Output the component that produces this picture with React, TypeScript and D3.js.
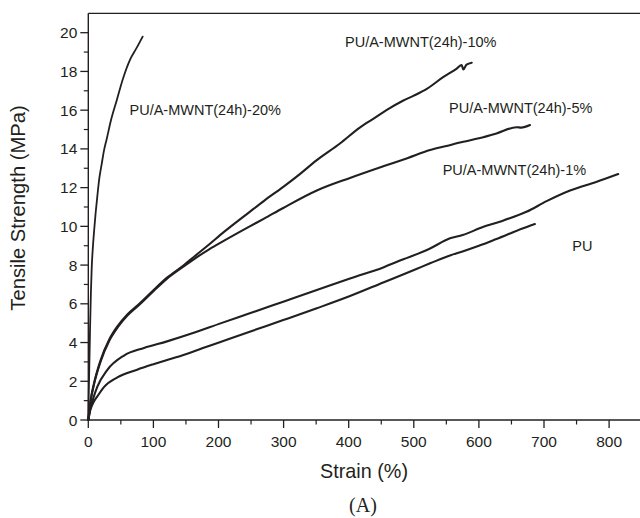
import React from "react";
import * as d3 from "d3";

// ---- data (strain %, tensile strength MPa) ----
const pu20Strain = [0, 0.8, 1.8, 2.8, 4, 5.3, 7, 9, 11.3, 14, 17, 20.5, 24, 28.2, 35, 43.6, 53, 64, 74, 83.5];
const pu20Stress = [0, 1.5, 3.2, 4.9, 6.6, 7.9, 8.9, 9.8, 10.7, 11.6, 12.5, 13.2, 13.9, 14.5, 15.5, 16.5, 17.6, 18.6, 19.2, 19.8];

const pu10Strain = [0, 2, 4, 8.8, 19, 32, 45, 60, 80, 100, 121, 147, 162, 185, 208, 248, 270, 299.5, 325, 351, 386.6, 417, 440, 458, 484, 500, 520, 545, 566, 573.6, 576, 581, 589];
const pu10Stress = [0, 0.6, 1.1, 1.9, 3.1, 4.15, 4.85, 5.45, 6.05, 6.7, 7.35, 8.0, 8.42, 9.05, 9.7, 10.75, 11.32, 12.04, 12.7, 13.42, 14.28, 15.1, 15.6, 16.0, 16.5, 16.75, 17.1, 17.7, 18.15, 18.33, 18.1, 18.35, 18.45];

const pu5Strain = [0, 2, 4, 8.8, 19, 32, 45, 60, 80, 100, 121, 147, 162, 185, 208, 248, 270, 299.5, 351, 402, 453, 490, 525, 550, 576, 600, 627, 658, 665, 678.5];
const pu5Stress = [0, 0.55, 1.05, 1.84, 3.03, 4.08, 4.78, 5.39, 6.0, 6.65, 7.3, 7.94, 8.3, 8.8, 9.25, 10.0, 10.4, 10.95, 11.85, 12.5, 13.1, 13.52, 13.94, 14.15, 14.37, 14.55, 14.8, 15.12, 15.1, 15.23];

const pu1Strain = [0, 3, 7, 13.9, 29, 54.8, 85.6, 121, 162, 203, 248, 299.5, 351, 402, 453, 484, 514.6, 525, 555.6, 575, 607, 632, 673, 704, 740, 781, 814];
const pu1Stress = [0, 0.55, 1.05, 1.72, 2.58, 3.33, 3.72, 4.06, 4.5, 4.99, 5.51, 6.11, 6.71, 7.31, 7.88, 8.3, 8.7, 8.86, 9.38, 9.55, 9.98, 10.24, 10.75, 11.3, 11.85, 12.3, 12.7];

const puStrain = [0, 3, 7, 13.9, 24, 44.6, 75, 100, 121, 146, 175, 203, 248, 299.5, 351, 402, 453, 504, 525, 555.6, 576, 600, 627, 668, 686];
const puStress = [0, 0.5, 0.85, 1.22, 1.7, 2.2, 2.6, 2.88, 3.1, 3.36, 3.7, 4.03, 4.56, 5.16, 5.77, 6.4, 7.1, 7.8, 8.09, 8.5, 8.72, 9.0, 9.35, 9.9, 10.12];

const seriesLabels = [
  "PU/A-MWNT(24h)-20%",
  "PU/A-MWNT(24h)-10%",
  "PU/A-MWNT(24h)-5%",
  "PU/A-MWNT(24h)-1%",
  "PU",
];

const xMajorTicks = [0, 100, 200, 300, 400, 500, 600, 700, 800];
const xMinorTicks = [50, 150, 250, 350, 450, 550, 650, 750];
const yMajorTicks = [0, 2, 4, 6, 8, 10, 12, 14, 16, 18, 20];
const yMinorTicks = [1, 3, 5, 7, 9, 11, 13, 15, 17, 19];

const xTitle = "Strain (%)";
const yTitle = "Tensile Strength (MPa)";
const panelLabel = "(A)";

const W = 640;
const H = 518;
const INK = "#231f20";
const SANS = "'Liberation Sans', Arial, Helvetica, sans-serif";
const SERIF = "'Liberation Serif', 'Times New Roman', serif";

export default function App() {
  const x = d3.scaleLinear().domain([0, 850]).range([88.3, 88.3 + 0.651 * 850]);
  const y = d3.scaleLinear().domain([0, 21]).range([420, 420 - 19.365 * 21]);

  const line = d3
    .line<[number, number]>()
    .x((d) => x(d[0]))
    .y((d) => y(d[1]))
    .curve(d3.curveMonotoneX);

  const zip = (a: number[], b: number[]) => a.map((v, i) => [v, b[i]] as [number, number]);
  const curves = [
    zip(pu20Strain, pu20Stress),
    zip(pu10Strain, pu10Stress),
    zip(pu5Strain, pu5Stress),
    zip(pu1Strain, pu1Stress),
    zip(puStrain, puStress),
  ];

  // label anchor positions in data units
  const labelPos: [number, number][] = [
    [x.invert(129.5), y.invert(114.5)],
    [x.invert(345), y.invert(46.5)],
    [x.invert(449), y.invert(113)],
    [x.invert(442.7), y.invert(175)],
    [x.invert(572.3), y.invert(251)],
  ];

  const x0 = x(0);
  const xEnd = W;
  const yBot = y(0);
  const yTop = y(21);

  return (
    <svg
      width={W}
      height={H}
      viewBox={`0 0 ${W} ${H}`}
      style={{ position: "absolute", left: 0, top: 0, background: "#fff" }}
    >
      <rect x={0} y={0} width={W} height={H} fill="#fff" />
      {/* curves */}
      {curves.map((c, i) => (
        <path
          key={i}
          d={line(c) || ""}
          fill="none"
          stroke={INK}
          strokeWidth={i === 0 ? 1.8 : 2.1}
          strokeLinejoin="round"
          strokeLinecap="round"
        />
      ))}
      {/* frame */}
      <line x1={x0} x2={xEnd} y1={yTop} y2={yTop} stroke={INK} strokeWidth={1.4} />
      <line x1={x0} x2={x0} y1={yTop} y2={yBot} stroke={INK} strokeWidth={1.4} />
      <line x1={x0} x2={xEnd} y1={yBot} y2={yBot} stroke={INK} strokeWidth={1.4} />
      {/* y ticks */}
      {yMajorTicks.map((t) => (
        <g key={"ym" + t}>
          <line x1={x0 - 8} x2={x0} y1={y(t)} y2={y(t)} stroke={INK} strokeWidth={1.3} />
          <text
            x={x0 - 11}
            y={y(t) + 5.5}
            textAnchor="end"
            fontFamily={SANS}
            fontSize={15.5}
            fill={INK}
          >
            {t}
          </text>
        </g>
      ))}
      {yMinorTicks.map((t) => (
        <line key={"yn" + t} x1={x0 - 4.5} x2={x0} y1={y(t)} y2={y(t)} stroke={INK} strokeWidth={1.2} />
      ))}
      {/* x ticks */}
      {xMajorTicks.map((t) => (
        <g key={"xm" + t}>
          <line x1={x(t)} x2={x(t)} y1={yBot} y2={yBot + 8} stroke={INK} strokeWidth={1.3} />
          <text
            x={x(t)}
            y={yBot + 27}
            textAnchor="middle"
            fontFamily={SANS}
            fontSize={15.5}
            fill={INK}
          >
            {t}
          </text>
        </g>
      ))}
      {xMinorTicks.map((t) => (
        <line key={"xn" + t} x1={x(t)} x2={x(t)} y1={yBot} y2={yBot + 4.5} stroke={INK} strokeWidth={1.2} />
      ))}
      {/* series labels */}
      {seriesLabels.map((s, i) => (
        <text
          key={s}
          x={x(labelPos[i][0])}
          y={y(labelPos[i][1])}
          fontFamily={SANS}
          fontSize={14.5}
          fill={INK}
        >
          {s}
        </text>
      ))}
      {/* axis titles */}
      <text
        x={364}
        y={478}
        textAnchor="middle"
        fontFamily={SANS}
        fontSize={19.8}
        fill={INK}
      >
        {xTitle}
      </text>
      <text
        transform={`translate(25,208) rotate(-90)`}
        textAnchor="middle"
        fontFamily={SANS}
        fontSize={20.2}
        fill={INK}
      >
        {yTitle}
      </text>
      <text
        x={363}
        y={512}
        textAnchor="middle"
        fontFamily={SERIF}
        fontSize={20}
        fill={INK}
      >
        {panelLabel}
      </text>
    </svg>
  );
}
